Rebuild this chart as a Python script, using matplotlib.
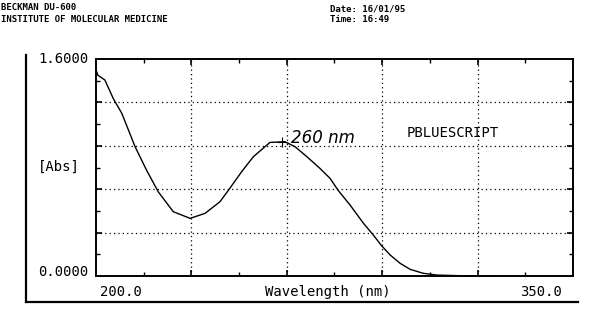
import numpy as np
import matplotlib.pyplot as plt
from matplotlib.lines import Line2D

# wavelength (nm) and absorbance
wavelength = [200.0, 200.6, 202.8, 205.4, 208.1, 212.3, 215.9, 219.6, 224.3, 229.6,
              234.3, 239.0, 242.1, 245.8, 249.5, 254.7, 259.4, 262.6, 266.3, 270.4,
              273.6, 276.2, 279.9, 284.1, 287.2, 289.9, 292.5, 295.6, 298.8, 302.9,
              307.1, 317.6, 326.0]
absorbance = [1.52, 1.48, 1.445, 1.31, 1.20, 0.953, 0.78, 0.62, 0.474, 0.425,
              0.462, 0.548, 0.647, 0.769, 0.88, 0.985, 0.99, 0.953, 0.88, 0.794,
              0.72, 0.63, 0.523, 0.389, 0.302, 0.221, 0.155, 0.094, 0.049, 0.020,
              0.007, 0.0, 0.0]

grid_x = [230, 260, 290, 320]
minor_x = [215, 245, 275, 305, 335]
grid_y = [0.32, 0.64, 0.96, 1.28]
minor_y = [0.16, 0.48, 0.80, 1.12, 1.44]

peak_nm = 258.5
peak_abs = 0.99
sample_name = "PBLUESCRIPT"

W, H = 600, 310
fig = plt.figure(figsize=(6, 3.1), dpi=100)
ax = fig.add_axes([96 / W, 1 - 276 / H, 477 / W, 217 / H])

ax.plot(wavelength, absorbance, color='black', linewidth=1.0)
ax.plot([peak_nm], [peak_abs], marker='+', color='black', markersize=7, markeredgewidth=0.8)
ax.text(peak_nm + 2.8, peak_abs + 0.03, "260 nm", fontsize=12, style='italic',
        family='DejaVu Sans', va='center', ha='left')

ax.set_xlim(200, 350)
ax.set_ylim(0, 1.6)
ax.set_xticks(grid_x)
ax.set_xticks(minor_x, minor=True)
ax.set_yticks(grid_y)
ax.set_yticks(minor_y, minor=True)
ax.grid(True, which='major', color='black', linestyle=(0, (1, 2.5)), linewidth=0.9)
ax.tick_params(which='both', direction='in', top=True, right=True,
               labelbottom=False, labelleft=False)
ax.tick_params(which='major', length=4, width=1.2)
ax.tick_params(which='minor', length=3, width=1.0)
for s in ax.spines.values():
    s.set_linewidth(1.4)

mono = dict(family='DejaVu Sans Mono', fontsize=10, color='black')
ax.text(-0.016, 1.0, "1.6000", transform=ax.transAxes, ha='right', va='center', **mono)
ax.text(-0.016, 0.02, "0.0000", transform=ax.transAxes, ha='right', va='center', **mono)
ax.text(-0.035, 0.505, "[Abs]", transform=ax.transAxes, ha='right', va='center', **mono)
ax.text(0.008, -0.04, "200.0", transform=ax.transAxes, ha='left', va='top', **mono)
ax.text(0.977, -0.04, "350.0", transform=ax.transAxes, ha='right', va='top', **mono)
ax.text(0.485, -0.04, "Wavelength (nm)", transform=ax.transAxes, ha='center', va='top', **mono)
ax.text(297.8, 1.055, sample_name, ha='left', va='center', **mono)

# header lines of the printout
hdr = dict(family='DejaVu Sans Mono', fontsize=6.5, fontweight='bold', color='black', va='center')
fig.text(1 / W, 1 - 8 / H, "BECKMAN DU-600", **hdr)
fig.text(1 / W, 1 - 19 / H, "INSTITUTE OF MOLECULAR MEDICINE", **hdr)
fig.text(330 / W, 1 - 9 / H, "Date: 16/01/95", **hdr)
fig.text(330 / W, 1 - 20 / H, "Time: 16:49", **hdr)

# outer frame of the printout
fig.add_artist(Line2D([26 / W, 26 / W], [1 - 55 / H, 1 - 302 / H], color='black', linewidth=1.6))
fig.add_artist(Line2D([26 / W, 578 / W], [1 - 302 / H, 1 - 302 / H], color='black', linewidth=1.6))

fig.savefig('out.png', dpi=100)
